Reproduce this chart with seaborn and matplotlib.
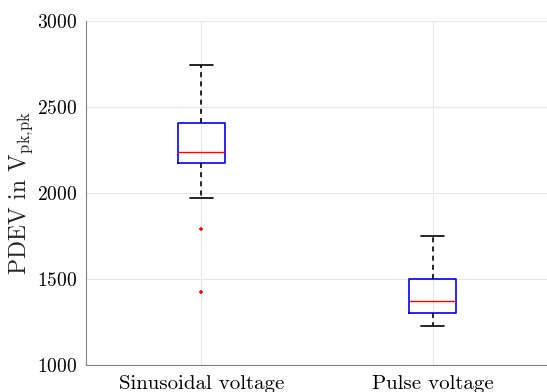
import matplotlib
matplotlib.use("Agg")
import matplotlib.pyplot as plt
import seaborn as sns
import pandas as pd

# Readings per excitation type (values in V_pk,pk)
categories = ["Sinusoidal voltage", "Pulse voltage"]
sinusoidal = [1424, 1791, 1971, 2174, 2174, 2238, 2238, 2238, 2407, 2407, 2407, 2745, 2745]
pulse = [1227, 1302, 1372, 1500, 1750]
yticks = [1000, 1500, 2000, 2500, 3000]

df = pd.DataFrame({
    "type": [categories[0]] * len(sinusoidal) + [categories[1]] * len(pulse),
    "pdev": sinusoidal + pulse,
})

sns.set_style("whitegrid")
plt.rcParams["font.family"] = ["cmr10", "DejaVu Serif"]
plt.rcParams["mathtext.fontset"] = "cm"
plt.rcParams["axes.formatter.use_mathtext"] = True

fig = plt.figure(figsize=(5.47, 3.92), dpi=100)
ax = fig.add_axes([0.157, 0.069, 0.845, 0.877])

sns.boxplot(
    data=df, x="type", y="pdev", order=categories, ax=ax,
    width=0.2, fill=False, color="blue", linewidth=1.2,
    boxprops=dict(color="blue"),
    medianprops=dict(color="red", linewidth=1.0),
    whiskerprops=dict(color="black", linestyle=(0, (3, 2.5))),
    capprops=dict(color="black"),
    flierprops=dict(marker="+", markeredgecolor="red", markerfacecolor="red", markersize=3.5, markeredgewidth=1.1),
)

ax.set_xlim(-0.5, 1.5)
ax.set_ylim(1000, 3000)
ax.set_yticks(yticks)
ax.set_xlabel("")
ax.set_ylabel(r"PDEV in $\mathrm{V}_{\mathrm{pk{,}pk}}$", fontsize=17, labelpad=2)

ax.grid(True, color="#e6e6e6", linewidth=0.8)
ax.set_axisbelow(True)
for side in ["top", "right"]:
    ax.spines[side].set_visible(False)
for side in ["left", "bottom"]:
    ax.spines[side].set_color("#808080")
    ax.spines[side].set_linewidth(0.8)
ax.tick_params(axis="both", direction="in", length=4, color="#808080", labelcolor="black")
ax.tick_params(axis="x", pad=7, labelsize=15)
ax.tick_params(axis="y", pad=6, labelsize=14)

plt.savefig("out.png", dpi=100)
